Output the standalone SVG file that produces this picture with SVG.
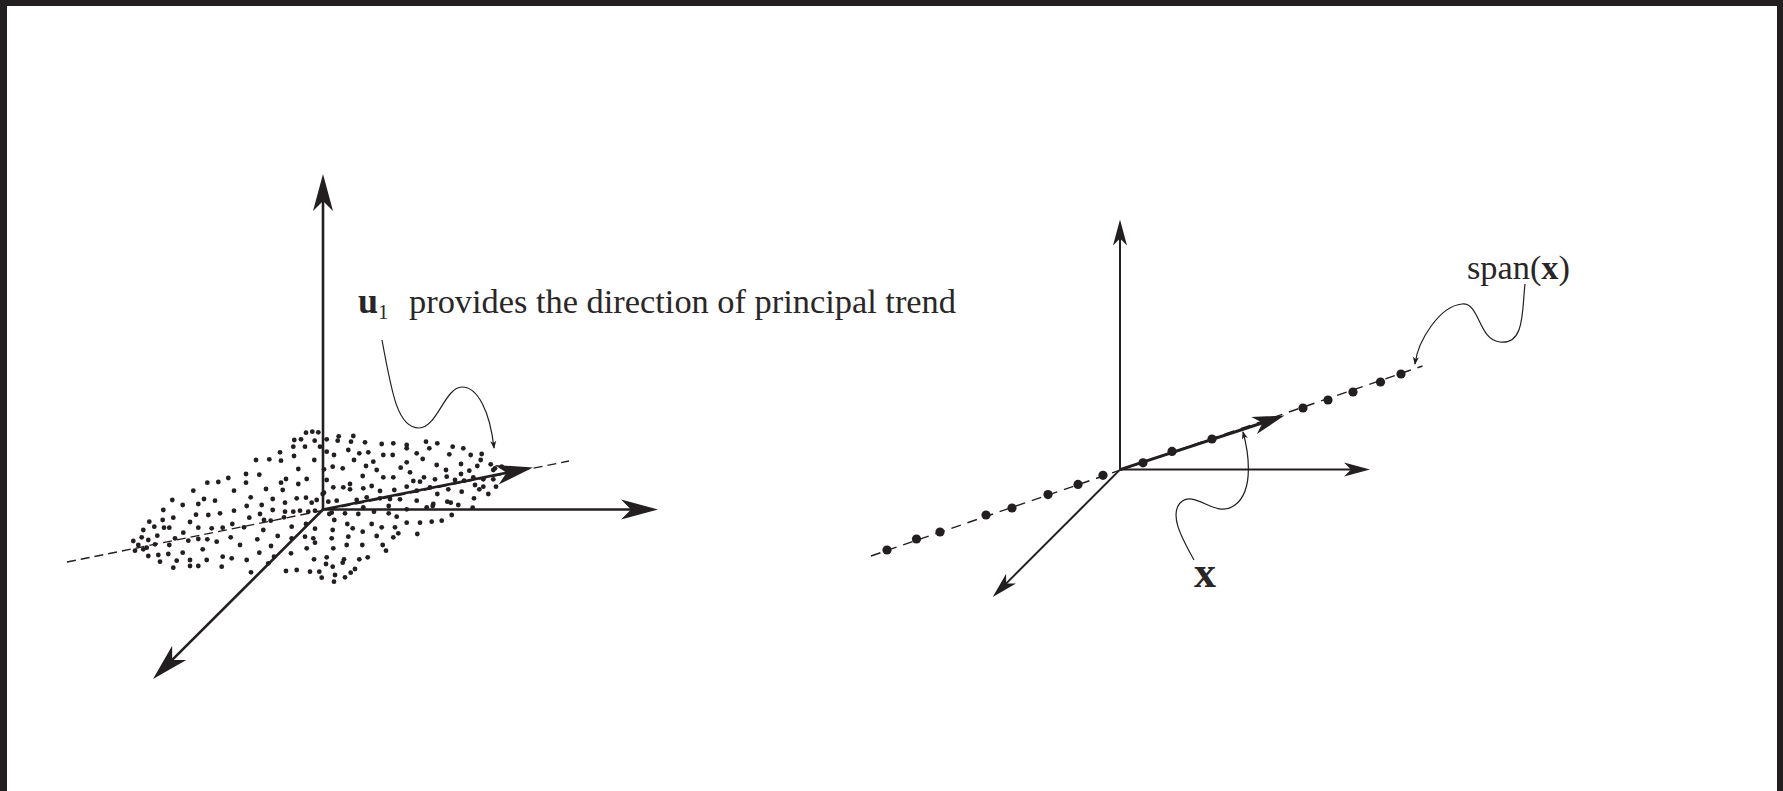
<svg xmlns="http://www.w3.org/2000/svg" width="1783" height="791" viewBox="0 0 1783 791">
<style>
.ax{stroke:#231f20;stroke-width:2.6;fill:none}
.axr{stroke:#231f20;stroke-width:2;fill:none}
.dash{stroke:#231f20;stroke-width:1.4;fill:none;stroke-dasharray:10 7}
.curl{stroke:#231f20;stroke-width:1.2;fill:none}
.t{font-family:"Liberation Serif","Times New Roman",serif;fill:#2a2627}
.pts circle{fill:#231f20}
</style>
<defs>
<marker id="big" markerUnits="userSpaceOnUse" markerWidth="44" markerHeight="24" refX="20" refY="10" orient="auto" overflow="visible">
<path d="M40,10 L3,0 L13,10 L3,20 Z" fill="#231f20"/>
</marker>
<marker id="mid" markerUnits="userSpaceOnUse" markerWidth="36" markerHeight="22" refX="16" refY="9" orient="auto" overflow="visible">
<path d="M34,9 L2,0 L11,9 L2,18 Z" fill="#231f20"/>
</marker>
<marker id="small" markerUnits="userSpaceOnUse" markerWidth="30" markerHeight="18" refX="14" refY="7" orient="auto" overflow="visible">
<path d="M28,7 L2,0 L9,7 L2,14 Z" fill="#231f20"/>
</marker>
<marker id="tiny" markerUnits="userSpaceOnUse" markerWidth="10" markerHeight="8" refX="7" refY="3" orient="auto" overflow="visible">
<path d="M8,3 L0,0 L2,3 L0,6 Z" fill="#231f20"/>
</marker>
</defs>
<rect x="0" y="0" width="1783" height="791" fill="#fff"/>
<g id="frame" fill="#231f20">
<rect x="0" y="0" width="1783" height="6"/>
<rect x="0" y="0" width="7" height="791"/>
<rect x="1777" y="0" width="6" height="791"/>
</g>

<g id="left-cloud" class="pts">
<circle cx="306.0" cy="432.7" r="2.4"/><circle cx="312.3" cy="431.7" r="2.4"/><circle cx="318.3" cy="432.3" r="2.4"/><circle cx="294.3" cy="440.0" r="2.4"/><circle cx="301.0" cy="439.3" r="2.4"/><circle cx="314.7" cy="440.7" r="2.4"/><circle cx="326.7" cy="439.3" r="2.4"/><circle cx="337.7" cy="440.7" r="2.4"/><circle cx="338.7" cy="436.3" r="2.4"/><circle cx="353.3" cy="436.0" r="2.4"/><circle cx="351.0" cy="441.7" r="2.4"/><circle cx="365.0" cy="442.3" r="2.4"/><circle cx="381.7" cy="444.0" r="2.4"/><circle cx="393.3" cy="443.3" r="2.4"/><circle cx="406.7" cy="445.0" r="2.4"/><circle cx="406.7" cy="448.3" r="2.4"/><circle cx="426.0" cy="441.7" r="2.4"/><circle cx="437.3" cy="443.3" r="2.4"/><circle cx="429.3" cy="448.3" r="2.4"/><circle cx="280.0" cy="452.3" r="2.4"/><circle cx="293.3" cy="446.7" r="2.4"/><circle cx="305.0" cy="446.7" r="2.4"/><circle cx="320.0" cy="446.7" r="2.4"/><circle cx="326.7" cy="451.7" r="2.4"/><circle cx="334.0" cy="455.0" r="2.4"/><circle cx="348.3" cy="450.0" r="2.4"/><circle cx="359.3" cy="453.3" r="2.4"/><circle cx="368.3" cy="452.3" r="2.4"/><circle cx="383.3" cy="455.0" r="2.4"/><circle cx="392.7" cy="455.0" r="2.4"/><circle cx="416.7" cy="453.3" r="2.4"/><circle cx="449.3" cy="454.3" r="2.4"/><circle cx="256.0" cy="460.0" r="2.4"/><circle cx="269.3" cy="459.3" r="2.4"/><circle cx="281.0" cy="460.7" r="2.4"/><circle cx="294.0" cy="456.0" r="2.4"/><circle cx="314.3" cy="460.0" r="2.4"/><circle cx="354.0" cy="460.0" r="2.4"/><circle cx="373.3" cy="461.7" r="2.4"/><circle cx="422.7" cy="459.0" r="2.4"/><circle cx="332.7" cy="466.7" r="2.4"/><circle cx="342.7" cy="468.3" r="2.4"/><circle cx="324.0" cy="469.3" r="2.4"/><circle cx="298.3" cy="469.0" r="2.4"/><circle cx="366.0" cy="466.0" r="2.4"/><circle cx="376.7" cy="470.0" r="2.4"/><circle cx="400.7" cy="467.7" r="2.4"/><circle cx="406.7" cy="462.3" r="2.4"/><circle cx="410.0" cy="472.3" r="2.4"/><circle cx="436.7" cy="465.0" r="2.4"/><circle cx="446.0" cy="470.0" r="2.4"/><circle cx="246.0" cy="474.0" r="2.4"/><circle cx="259.3" cy="474.7" r="2.4"/><circle cx="286.0" cy="479.0" r="2.4"/><circle cx="281.0" cy="482.7" r="2.4"/><circle cx="298.3" cy="484.0" r="2.4"/><circle cx="306.7" cy="479.0" r="2.4"/><circle cx="326.7" cy="480.0" r="2.4"/><circle cx="362.7" cy="476.0" r="2.4"/><circle cx="383.3" cy="477.3" r="2.4"/><circle cx="393.3" cy="477.3" r="2.4"/><circle cx="413.3" cy="481.0" r="2.4"/><circle cx="420.0" cy="481.7" r="2.4"/><circle cx="424.0" cy="477.3" r="2.4"/><circle cx="435.0" cy="479.3" r="2.4"/><circle cx="446.7" cy="476.7" r="2.4"/><circle cx="207.3" cy="482.7" r="2.4"/><circle cx="218.3" cy="482.0" r="2.4"/><circle cx="228.3" cy="478.0" r="2.4"/><circle cx="246.0" cy="482.7" r="2.4"/><circle cx="234.0" cy="490.7" r="2.4"/><circle cx="266.0" cy="489.0" r="2.4"/><circle cx="282.7" cy="490.0" r="2.4"/><circle cx="333.3" cy="487.3" r="2.4"/><circle cx="343.3" cy="487.3" r="2.4"/><circle cx="350.0" cy="484.0" r="2.4"/><circle cx="350.0" cy="489.3" r="2.4"/><circle cx="363.3" cy="488.3" r="2.4"/><circle cx="371.7" cy="486.0" r="2.4"/><circle cx="380.0" cy="491.0" r="2.4"/><circle cx="394.3" cy="490.0" r="2.4"/><circle cx="406.7" cy="486.7" r="2.4"/><circle cx="416.7" cy="490.7" r="2.4"/><circle cx="430.0" cy="487.3" r="2.4"/><circle cx="437.3" cy="494.0" r="2.4"/><circle cx="448.3" cy="489.3" r="2.4"/><circle cx="204.0" cy="499.0" r="2.4"/><circle cx="215.0" cy="500.7" r="2.4"/><circle cx="250.7" cy="497.3" r="2.4"/><circle cx="272.7" cy="499.0" r="2.4"/><circle cx="296.7" cy="498.3" r="2.4"/><circle cx="306.0" cy="497.7" r="2.4"/><circle cx="316.7" cy="500.0" r="2.4"/><circle cx="311.7" cy="502.7" r="2.4"/><circle cx="322.7" cy="494.0" r="2.4"/><circle cx="324.0" cy="492.7" r="2.4"/><circle cx="328.3" cy="501.7" r="2.4"/><circle cx="336.7" cy="500.7" r="2.4"/><circle cx="356.7" cy="500.0" r="2.4"/><circle cx="366.7" cy="497.3" r="2.4"/><circle cx="380.0" cy="498.3" r="2.4"/><circle cx="390.0" cy="499.0" r="2.4"/><circle cx="400.0" cy="499.3" r="2.4"/><circle cx="416.7" cy="500.7" r="2.4"/><circle cx="433.3" cy="504.0" r="2.4"/><circle cx="447.3" cy="501.7" r="2.4"/><circle cx="208.3" cy="515.0" r="2.4"/><circle cx="220.0" cy="513.3" r="2.4"/><circle cx="234.0" cy="510.7" r="2.4"/><circle cx="246.7" cy="506.0" r="2.4"/><circle cx="261.7" cy="505.0" r="2.4"/><circle cx="272.7" cy="510.0" r="2.4"/><circle cx="285.0" cy="502.7" r="2.4"/><circle cx="285.0" cy="511.7" r="2.4"/><circle cx="293.3" cy="511.7" r="2.4"/><circle cx="300.0" cy="510.7" r="2.4"/><circle cx="308.3" cy="511.7" r="2.4"/><circle cx="315.0" cy="510.7" r="2.4"/><circle cx="329.3" cy="514.0" r="2.4"/><circle cx="331.7" cy="512.7" r="2.4"/><circle cx="345.0" cy="513.3" r="2.4"/><circle cx="358.3" cy="514.0" r="2.4"/><circle cx="363.3" cy="507.3" r="2.4"/><circle cx="374.0" cy="511.7" r="2.4"/><circle cx="388.7" cy="506.0" r="2.4"/><circle cx="388.7" cy="513.3" r="2.4"/><circle cx="396.7" cy="516.7" r="2.4"/><circle cx="406.7" cy="509.3" r="2.4"/><circle cx="426.7" cy="507.3" r="2.4"/><circle cx="432.7" cy="506.0" r="2.4"/><circle cx="211.7" cy="528.3" r="2.4"/><circle cx="222.7" cy="527.7" r="2.4"/><circle cx="232.3" cy="524.0" r="2.4"/><circle cx="244.0" cy="527.3" r="2.4"/><circle cx="249.3" cy="517.7" r="2.4"/><circle cx="260.0" cy="514.0" r="2.4"/><circle cx="264.0" cy="520.0" r="2.4"/><circle cx="270.7" cy="520.7" r="2.4"/><circle cx="284.0" cy="517.3" r="2.4"/><circle cx="291.7" cy="526.7" r="2.4"/><circle cx="306.0" cy="524.0" r="2.4"/><circle cx="315.0" cy="528.7" r="2.4"/><circle cx="334.3" cy="520.0" r="2.4"/><circle cx="347.3" cy="524.0" r="2.4"/><circle cx="352.7" cy="528.3" r="2.4"/><circle cx="362.7" cy="531.7" r="2.4"/><circle cx="371.7" cy="524.0" r="2.4"/><circle cx="381.7" cy="527.3" r="2.4"/><circle cx="395.0" cy="527.3" r="2.4"/><circle cx="406.7" cy="522.7" r="2.4"/><circle cx="420.0" cy="522.7" r="2.4"/><circle cx="431.7" cy="521.7" r="2.4"/><circle cx="441.7" cy="520.7" r="2.4"/><circle cx="230.7" cy="537.3" r="2.4"/><circle cx="207.3" cy="539.3" r="2.4"/><circle cx="216.7" cy="541.7" r="2.4"/><circle cx="240.0" cy="545.0" r="2.4"/><circle cx="257.3" cy="539.3" r="2.4"/><circle cx="263.3" cy="530.0" r="2.4"/><circle cx="277.7" cy="536.0" r="2.4"/><circle cx="291.7" cy="538.3" r="2.4"/><circle cx="305.0" cy="536.7" r="2.4"/><circle cx="313.3" cy="538.3" r="2.4"/><circle cx="315.0" cy="542.7" r="2.4"/><circle cx="332.7" cy="530.0" r="2.4"/><circle cx="331.7" cy="538.3" r="2.4"/><circle cx="348.3" cy="536.7" r="2.4"/><circle cx="376.7" cy="536.0" r="2.4"/><circle cx="393.3" cy="537.3" r="2.4"/><circle cx="398.3" cy="533.3" r="2.4"/><circle cx="417.3" cy="534.0" r="2.4"/><circle cx="202.7" cy="549.3" r="2.4"/><circle cx="206.7" cy="560.0" r="2.4"/><circle cx="222.7" cy="556.7" r="2.4"/><circle cx="231.7" cy="558.3" r="2.4"/><circle cx="246.7" cy="560.0" r="2.4"/><circle cx="259.3" cy="552.7" r="2.4"/><circle cx="271.0" cy="546.0" r="2.4"/><circle cx="291.0" cy="553.3" r="2.4"/><circle cx="306.7" cy="548.3" r="2.4"/><circle cx="333.3" cy="548.3" r="2.4"/><circle cx="346.7" cy="545.0" r="2.4"/><circle cx="362.3" cy="545.0" r="2.4"/><circle cx="382.7" cy="545.0" r="2.4"/><circle cx="386.0" cy="550.7" r="2.4"/><circle cx="221.7" cy="566.7" r="2.4"/><circle cx="251.0" cy="572.3" r="2.4"/><circle cx="268.3" cy="563.3" r="2.4"/><circle cx="274.0" cy="556.7" r="2.4"/><circle cx="286.0" cy="571.0" r="2.4"/><circle cx="296.7" cy="570.0" r="2.4"/><circle cx="310.0" cy="571.7" r="2.4"/><circle cx="314.0" cy="559.3" r="2.4"/><circle cx="319.3" cy="571.7" r="2.4"/><circle cx="321.7" cy="577.7" r="2.4"/><circle cx="326.7" cy="557.3" r="2.4"/><circle cx="326.0" cy="564.0" r="2.4"/><circle cx="332.7" cy="566.7" r="2.4"/><circle cx="335.0" cy="575.0" r="2.4"/><circle cx="334.0" cy="581.7" r="2.4"/><circle cx="342.7" cy="562.7" r="2.4"/><circle cx="344.0" cy="559.3" r="2.4"/><circle cx="345.0" cy="577.3" r="2.4"/><circle cx="350.7" cy="572.7" r="2.4"/><circle cx="355.0" cy="569.0" r="2.4"/><circle cx="359.3" cy="559.3" r="2.4"/><circle cx="367.7" cy="557.3" r="2.4"/>
<circle cx="452.7" cy="446.7" r="2.4"/><circle cx="463.3" cy="448.3" r="2.4"/><circle cx="470.7" cy="455.0" r="2.4"/><circle cx="481.7" cy="454.0" r="2.4"/><circle cx="480.7" cy="460.0" r="2.4"/><circle cx="490.7" cy="464.3" r="2.4"/><circle cx="461.0" cy="464.0" r="2.4"/><circle cx="477.3" cy="466.0" r="2.4"/><circle cx="469.3" cy="470.7" r="2.4"/><circle cx="461.0" cy="474.0" r="2.4"/><circle cx="493.3" cy="470.0" r="2.4"/><circle cx="495.0" cy="468.3" r="2.4"/><circle cx="455.0" cy="480.0" r="2.4"/><circle cx="464.0" cy="480.7" r="2.4"/><circle cx="473.3" cy="477.3" r="2.4"/><circle cx="483.3" cy="479.3" r="2.4"/><circle cx="493.3" cy="479.3" r="2.4"/><circle cx="501.7" cy="466.7" r="2.4"/><circle cx="475.0" cy="485.0" r="2.4"/><circle cx="479.3" cy="489.3" r="2.4"/><circle cx="483.3" cy="486.7" r="2.4"/><circle cx="496.0" cy="486.7" r="2.4"/><circle cx="461.7" cy="491.7" r="2.4"/><circle cx="488.3" cy="494.0" r="2.4"/><circle cx="474.0" cy="498.3" r="2.4"/><circle cx="450.7" cy="502.7" r="2.4"/><circle cx="458.3" cy="505.0" r="2.4"/><circle cx="472.7" cy="507.7" r="2.4"/><circle cx="451.7" cy="515.0" r="2.4"/>
<circle cx="193.3" cy="490.7" r="2.4"/><circle cx="172.3" cy="500.0" r="2.4"/><circle cx="182.7" cy="505.0" r="2.4"/><circle cx="198.3" cy="504.0" r="2.4"/><circle cx="163.3" cy="510.0" r="2.4"/><circle cx="173.3" cy="517.7" r="2.4"/><circle cx="196.0" cy="514.7" r="2.4"/><circle cx="149.3" cy="521.7" r="2.4"/><circle cx="162.7" cy="520.0" r="2.4"/><circle cx="190.0" cy="522.0" r="2.4"/><circle cx="143.3" cy="530.0" r="2.4"/><circle cx="154.3" cy="526.7" r="2.4"/><circle cx="164.0" cy="527.7" r="2.4"/><circle cx="169.3" cy="527.7" r="2.4"/><circle cx="183.3" cy="532.7" r="2.4"/><circle cx="198.3" cy="527.7" r="2.4"/><circle cx="157.3" cy="535.7" r="2.4"/><circle cx="148.3" cy="540.0" r="2.4"/><circle cx="133.3" cy="541.0" r="2.4"/><circle cx="141.7" cy="537.3" r="2.4"/><circle cx="175.0" cy="538.3" r="2.4"/><circle cx="188.3" cy="540.7" r="2.4"/><circle cx="198.3" cy="539.0" r="2.4"/><circle cx="138.3" cy="545.0" r="2.4"/><circle cx="146.7" cy="547.7" r="2.4"/><circle cx="155.0" cy="544.3" r="2.4"/><circle cx="169.3" cy="545.0" r="2.4"/><circle cx="135.0" cy="550.7" r="2.4"/><circle cx="143.3" cy="549.3" r="2.4"/><circle cx="148.3" cy="556.0" r="2.4"/><circle cx="158.3" cy="555.0" r="2.4"/><circle cx="168.3" cy="554.0" r="2.4"/><circle cx="182.7" cy="552.7" r="2.4"/><circle cx="160.0" cy="561.7" r="2.4"/><circle cx="176.7" cy="560.7" r="2.4"/><circle cx="190.0" cy="560.0" r="2.4"/><circle cx="173.3" cy="567.7" r="2.4"/><circle cx="190.0" cy="566.0" r="2.4"/><circle cx="198.3" cy="566.0" r="2.4"/>
</g>

<g id="connectors">
<line id="left-dashed" class="dash" style="stroke-dasharray:9 5" x1="67" y1="562" x2="569" y2="461"/>
<line id="left-z" class="ax" x1="323" y1="509.5" x2="323" y2="194" marker-end="url(#big)"/>
<line id="left-x" class="ax" x1="323" y1="509.5" x2="638" y2="509.5" marker-end="url(#big)"/>
<line id="left-y" class="ax" x1="323" y1="509.5" x2="167.2" y2="664.9" marker-end="url(#big)"/>
<line id="u1-arrow" class="ax" x1="323" y1="509.5" x2="513.4" y2="471.4" marker-end="url(#big)"/>
<path id="u1-curl" class="curl" d="M382,340 C392,395 398,428 419,428 C437,428 445,387 462,387 C478,387 490,412 494,448" marker-end="url(#tiny)"/>

<line id="right-dashed" class="dash" x1="871" y1="556" x2="1422.5" y2="366"/>
<line id="right-z" class="axr" x1="1120" y1="469.6" x2="1120" y2="233.5" marker-end="url(#small)"/>
<line id="right-x" class="axr" x1="1120" y1="469.6" x2="1356" y2="469.6" marker-end="url(#small)"/>
<line id="right-y" class="axr" x1="1120" y1="469.6" x2="1002.6" y2="587.1" marker-end="url(#small)"/>
<line id="x-arrow" class="axr" style="stroke-width:3" x1="1120" y1="469.6" x2="1267.4" y2="421.2" marker-end="url(#mid)"/>
<path id="x-curl" class="curl" d="M1194,560 C1180,535 1170,515 1180,503 C1195,488 1215,520 1235,505 C1255,490 1248,450 1243,432" marker-end="url(#tiny)"/>
<path id="span-curl" class="curl" d="M1525,284 C1522,310 1525,345 1500,342 C1478,340 1480,302 1462,304 C1440,306 1418,340 1415,364" marker-end="url(#tiny)"/>
</g>

<g id="right-points" class="pts">
<circle cx="887" cy="550" r="4.6"/><circle cx="916.5" cy="539" r="4.6"/><circle cx="940" cy="532" r="4.6"/><circle cx="986" cy="515" r="4.6"/><circle cx="1012" cy="508" r="4.6"/><circle cx="1048" cy="494.6" r="4.6"/><circle cx="1078" cy="484.4" r="4.6"/><circle cx="1103" cy="475.3" r="4.6"/><circle cx="1143" cy="462.8" r="4.6"/><circle cx="1172" cy="451.4" r="4.6"/><circle cx="1212" cy="439" r="4.6"/><circle cx="1303" cy="408" r="4.6"/><circle cx="1328" cy="400" r="4.6"/><circle cx="1353" cy="392" r="4.6"/><circle cx="1380.5" cy="382" r="4.6"/><circle cx="1401" cy="374" r="4.6"/>
</g>

<g id="label-u1">
<text class="t" x="358" y="313" font-size="36" font-weight="bold">u</text>
<text class="t" x="378" y="319" font-size="21">1</text>
<text class="t" x="409" y="313" font-size="33" textLength="547" lengthAdjust="spacingAndGlyphs">provides the direction of principal trend</text>
</g>
<g id="label-x">
<text class="t" x="1205" y="587" font-size="44" font-weight="bold" text-anchor="middle">x</text>
</g>
<g id="label-span">
<text class="t" x="1467" y="279" font-size="33" textLength="103" lengthAdjust="spacingAndGlyphs">span(<tspan font-weight="bold">x</tspan>)</text>
</g>
</svg>
